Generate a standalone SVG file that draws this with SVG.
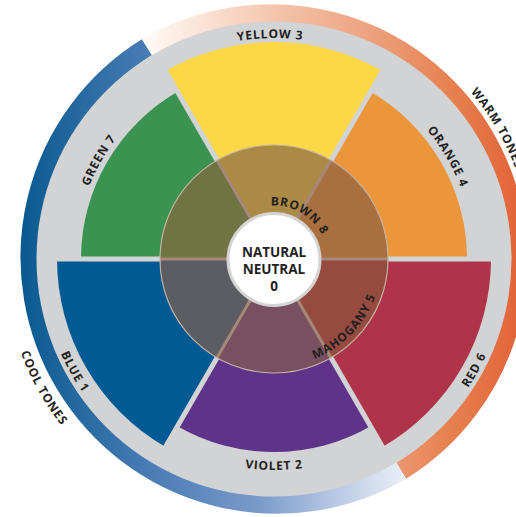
<svg xmlns="http://www.w3.org/2000/svg" width="516" height="517" viewBox="0 0 516 517">
<defs>
<linearGradient id="coolGrad" gradientUnits="userSpaceOnUse" x1="18" y1="0" x2="516" y2="0">
<stop offset="0" stop-color="#07598f"/>
<stop offset="0.265" stop-color="#4a7cb4"/>
<stop offset="0.486" stop-color="#7b9bca"/>
<stop offset="0.627" stop-color="#b4c6e2"/>
<stop offset="0.787" stop-color="#eef2f9"/>
<stop offset="1" stop-color="#ffffff"/>
</linearGradient>
<linearGradient id="warmGrad" gradientUnits="userSpaceOnUse" x1="18" y1="0" x2="516" y2="0">
<stop offset="0.255" stop-color="#fffaf6"/>
<stop offset="0.526" stop-color="#f3c3a9"/>
<stop offset="0.727" stop-color="#eb9e7a"/>
<stop offset="0.867" stop-color="#e7814f"/>
<stop offset="1" stop-color="#e2653a"/>
</linearGradient>
<path id="pYellow" d="M160.2,69.6 A221,221 0 0 1 381.1,65.7"/>
<path id="pOrange" d="M372.5,84.9 A200,200 0 0 1 474,257.3"/>
<path id="pGreen" d="M75.5,261.1 A198.5,198.5 0 0 1 173,88.2"/>
<path id="pWarm" d="M470.5,92 A258,258 0 0 1 516.4,347.2"/>
<path id="pCool" d="M4,255.3 A270,270 0 0 0 135.8,491"/>
<path id="pBlue" d="M41,257 A233,233 0 0 0 155.5,460"/>
<path id="pRed" d="M394,458.7 A233,233 0 0 0 507,254.9"/>
<path id="pViolet" d="M168.5,441.7 A211,211 0 0 0 379.5,441.7"/>
<path id="pBrown" d="M247.25,212.67 A53.5,53.5 0 0 1 327.5,259"/>
<path id="pMahogany" d="M247.9,363.8 A108,108 0 0 0 377.8,229.2"/>
</defs>
<style>
.lbl{font-family:"Open Sans","Liberation Sans",sans-serif;font-weight:700;font-size:12px;fill:#231f20;letter-spacing:0.8px}
.ctr{font-family:"Open Sans","Liberation Sans",sans-serif;font-weight:700;font-size:13.5px;fill:#231f20;text-anchor:middle}
.gap{stroke:#d1d3d4;stroke-width:5}
.igap{stroke:#a68878;stroke-width:3}
</style>

<g id="tone-bands">
<path d="M146.8,47.3 A247,247 0 0 1 401.2,470.7" fill="none" stroke="url(#warmGrad)" stroke-width="19"/>
<path d="M401.2,470.7 A247,247 0 0 1 146.8,47.3" fill="none" stroke="url(#coolGrad)" stroke-width="19"/>
<text class="lbl"><textPath href="#pWarm">WARM TONES</textPath></text>
<text class="lbl" text-anchor="middle"><textPath href="#pCool" startOffset="50%">COOL TONES</textPath></text>
</g>

<circle id="base-disk" cx="274" cy="259" r="237.5" fill="#d1d3d4"/>

<g id="yellow-3">
<path d="M274,259 L382.5,71.07 A217,217 0 0 0 165.5,71.07 Z" fill="#fcd846"/>
<text class="lbl" text-anchor="middle"><textPath href="#pYellow" startOffset="50%">YELLOW 3</textPath></text>
</g>
<g id="orange-4">
<path d="M274,259 L467,259 A193,193 0 0 0 370.5,91.86 Z" fill="#ec963c"/>
<text class="lbl" text-anchor="middle"><textPath href="#pOrange" startOffset="50%">ORANGE 4</textPath></text>
</g>
<g id="green-7">
<path d="M274,259 L177.5,91.86 A193,193 0 0 0 81,259 Z" fill="#3a9350"/>
<text class="lbl" text-anchor="middle"><textPath href="#pGreen" startOffset="50%">GREEN 7</textPath></text>
</g>
<g id="blue-1">
<path d="M274,259 L57,259 A217,217 0 0 0 165.5,446.93 Z" fill="#005b94"/>
<text class="lbl" text-anchor="middle"><textPath href="#pBlue" startOffset="50%">BLUE 1</textPath></text>
</g>
<g id="violet-2">
<path d="M274,259 L177.5,426.14 A193,193 0 0 0 370.5,426.14 Z" fill="#60338b"/>
<text class="lbl" text-anchor="middle"><textPath href="#pViolet" startOffset="50%">VIOLET 2</textPath></text>
</g>
<g id="red-6">
<path d="M274,259 L382.5,446.93 A217,217 0 0 0 491,259 Z" fill="#b03449"/>
<text class="lbl" text-anchor="middle"><textPath href="#pRed" startOffset="50%">RED 6</textPath></text>
</g>

<g id="connectors">
<line class="gap" x1="50" y1="259" x2="498" y2="259"/>
<line class="gap" x1="386" y1="65" x2="162" y2="453"/>
<line class="gap" x1="162" y1="65" x2="386" y2="453"/>
</g>

<g id="brown-8">
<path d="M274,259 L331,160.27 A114,114 0 0 0 217,160.27 Z" fill="#ab8a45"/>
<path d="M274,259 L388,259 A114,114 0 0 0 331,160.27 Z" fill="#a8703e"/>
<path d="M274,259 L217,160.27 A114,114 0 0 0 160,259 Z" fill="#707443"/>
<path d="M274,259 L160,259 A114,114 0 0 0 217,357.73 Z" fill="#5c5d62"/>
<path d="M274,259 L217,357.73 A114,114 0 0 0 331,357.73 Z" fill="#78505f"/>
<path d="M274,259 L331,357.73 A114,114 0 0 0 388,259 Z" fill="#964b40"/>
<line class="igap" x1="160" y1="259" x2="388" y2="259"/>
<line class="igap" x1="331" y1="160.27" x2="217" y2="357.73"/>
<line class="igap" x1="217" y1="160.27" x2="331" y2="357.73"/>
<circle cx="274" cy="259" r="114" fill="none" stroke="#c4b3a3" stroke-width="1.2"/>
<text class="lbl" text-anchor="middle"><textPath href="#pBrown" startOffset="50%">BROWN 8</textPath></text>
</g>
<g id="mahogany-5">
<text class="lbl" text-anchor="middle"><textPath href="#pMahogany" startOffset="50%">MAHOGANY 5</textPath></text>
</g>

<g id="natural-neutral-0">
<circle cx="274" cy="259.5" r="46" fill="#ffffff" stroke="#d4d4d4" stroke-width="3"/>
<text class="ctr" x="274" y="256.5">NATURAL</text>
<text class="ctr" x="274" y="273.5">NEUTRAL</text>
<text class="ctr" x="274" y="290.5">0</text>
</g>
</svg>
